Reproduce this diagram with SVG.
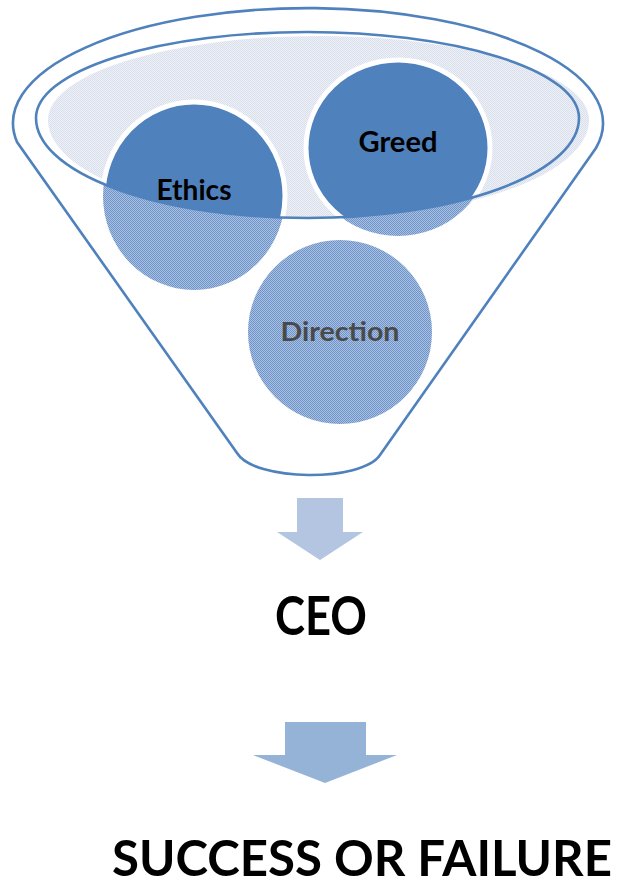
<svg xmlns="http://www.w3.org/2000/svg" width="621" height="886" viewBox="0 0 621 886">
  <defs>
    <style>
      .lbl { font-family: Lato, "Open Sans", "Liberation Sans", sans-serif; font-weight: bold; text-anchor: middle; fill: #000; }
      .rim { fill: none; stroke: #4f81bd; stroke-width: 2.6; }
      .ball { fill: url(#glass); }
      .ballTop { fill: #4f81bd; stroke: #fff; stroke-width: 5; }
    </style>
    <!-- fine dotted texture for the surface of the funnel mouth -->
    <pattern id="surface" width="2" height="2" patternUnits="userSpaceOnUse">
      <rect width="2" height="2" fill="#edf0f6"/>
      <rect width="1" height="1" fill="#d9e0ec"/>
      <rect x="1" y="1" width="1" height="1" fill="#d9e0ec"/>
    </pattern>
    <!-- balls seen through the funnel wall -->
    <pattern id="glass" width="2" height="2" patternUnits="userSpaceOnUse">
      <rect width="2" height="2" fill="#a9c0e1"/>
      <rect width="1" height="1" fill="#6e94c9"/>
      <rect x="1" y="1" width="1" height="1" fill="#6e94c9"/>
    </pattern>
    <path id="mouthPath" d="M36,118 A271.5,86 0 0 1 579,118 A271.5,100 0 0 1 36,118 Z"/>
    <clipPath id="mouthClip">
      <use href="#mouthPath"/>
    </clipPath>
  </defs>

  <rect width="621" height="886" fill="#fff"/>

  <g id="funnel">
    <!-- shaded liquid surface -->
    <path d="M48,120 A270.5,84 0 0 1 589,120 A270.5,98 0 0 1 48,120 Z" fill="url(#surface)"/>
  </g>

  <!-- lower halves of the balls, seen through the funnel -->
  <g id="ethics">
    <ellipse class="ball" cx="194" cy="196" rx="91" ry="94"/>
  </g>
  <g id="greed">
    <ellipse class="ball" cx="398" cy="148" rx="92" ry="88"/>
  </g>
  <g id="direction">
    <circle class="ball" cx="340" cy="332" r="92"/>
    <text class="lbl" x="340" y="341" font-size="27" style="fill:#4a4a4a" textLength="119" lengthAdjust="spacingAndGlyphs">Direction</text>
  </g>

  <!-- upper halves of the balls, above the surface -->
  <g id="ballTops" clip-path="url(#mouthClip)">
    <ellipse class="ballTop" cx="194" cy="196" rx="91" ry="94"/>
    <ellipse class="ballTop" cx="398" cy="148" rx="92" ry="88"/>
  </g>

  <g id="funnelRim">
    <use href="#mouthPath" class="rim"/>
    <path class="rim" d="M17,142 A295,115 0 1 1 596,148 L380,455 C362,482 255,482 237,453 Z"/>
  </g>

  <g id="ballLabels">
    <text class="lbl" x="194" y="200" font-size="28" textLength="75" lengthAdjust="spacingAndGlyphs">Ethics</text>
    <text class="lbl" x="398" y="152" font-size="29" textLength="79" lengthAdjust="spacingAndGlyphs">Greed</text>
  </g>

  <g id="connectors">
    <path d="M297,498 H343 V532 H363 L320,560 L277,532 H297 Z" fill="#b3c5e0"/>
    <path d="M285,722 H366 V755 H397 L325,783 L253,755 H285 Z" fill="#95b3d7"/>
  </g>

  <g id="ceo">
    <text class="lbl" x="321" y="635" font-size="53" textLength="92" lengthAdjust="spacingAndGlyphs">CEO</text>
  </g>

  <g id="outcome">
    <text class="lbl" x="362" y="876" font-size="50" textLength="500" lengthAdjust="spacingAndGlyphs">SUCCESS OR FAILURE</text>
  </g>
</svg>
